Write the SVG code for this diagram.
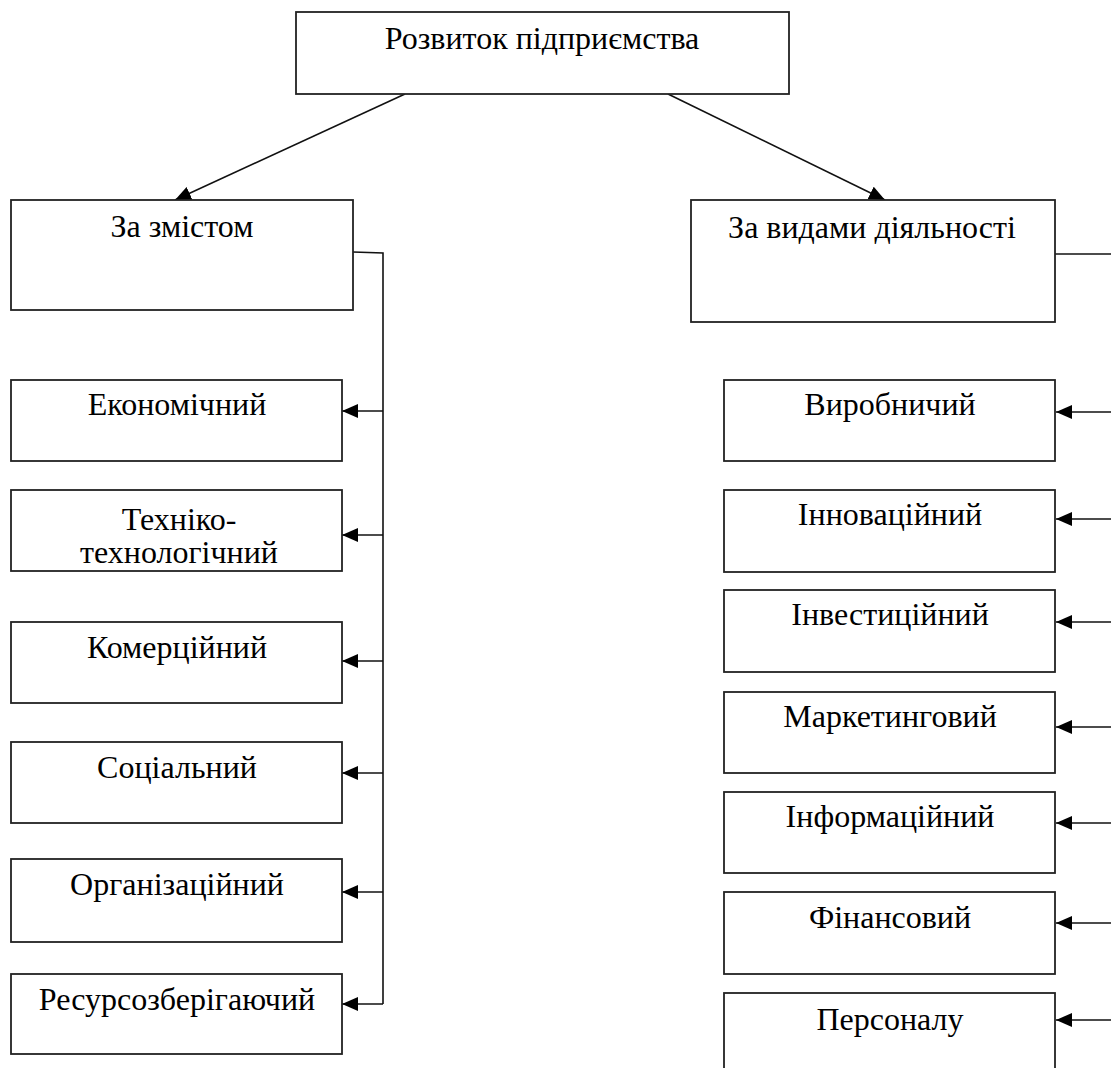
<svg xmlns="http://www.w3.org/2000/svg" width="1111" height="1068" viewBox="0 0 1111 1068">
<defs>
<style>
.box{fill:#fff;stroke:#222;stroke-width:1.8}
.t{font-family:"Liberation Serif","DejaVu Serif",serif;font-size:32px;fill:#000;text-anchor:middle}
.c{fill:none;stroke:#111;stroke-width:1.6}
</style>
<marker id="ah" markerUnits="userSpaceOnUse" markerWidth="17" markerHeight="15" refX="16" refY="7" orient="auto">
<path d="M0,0 L16,7 L0,14 Z" fill="#000"/>
</marker>
</defs>
<rect width="1111" height="1068" fill="#fff"/>
<g id="connectors">
<line class="c" x1="405" y1="94" x2="175" y2="200" marker-end="url(#ah)"/>
<line class="c" x1="668" y1="94" x2="885" y2="200" marker-end="url(#ah)"/>
<polyline class="c" points="353,252 383,253 383,1004"/>
<line class="c" x1="383" y1="411" x2="342" y2="411" marker-end="url(#ah)"/>
<line class="c" x1="383" y1="535" x2="342" y2="535" marker-end="url(#ah)"/>
<line class="c" x1="383" y1="661" x2="342" y2="661" marker-end="url(#ah)"/>
<line class="c" x1="383" y1="773" x2="342" y2="773" marker-end="url(#ah)"/>
<line class="c" x1="383" y1="892" x2="342" y2="892" marker-end="url(#ah)"/>
<line class="c" x1="383" y1="1004" x2="342" y2="1004" marker-end="url(#ah)"/>
<line class="c" x1="1055" y1="254" x2="1112" y2="254"/>
<line class="c" x1="1112" y1="412" x2="1056" y2="412" marker-end="url(#ah)"/>
<line class="c" x1="1112" y1="519" x2="1056" y2="519" marker-end="url(#ah)"/>
<line class="c" x1="1112" y1="622" x2="1056" y2="622" marker-end="url(#ah)"/>
<line class="c" x1="1112" y1="727" x2="1056" y2="727" marker-end="url(#ah)"/>
<line class="c" x1="1112" y1="823" x2="1056" y2="823" marker-end="url(#ah)"/>
<line class="c" x1="1112" y1="923" x2="1056" y2="923" marker-end="url(#ah)"/>
<line class="c" x1="1112" y1="1020" x2="1056" y2="1020" marker-end="url(#ah)"/>
</g>
<g id="root"><rect class="box" x="296" y="12" width="493" height="82"/><text class="t" x="542" y="49">Розвиток підприємства</text></g>
<g id="content"><rect class="box" x="11" y="200" width="342" height="110"/><text class="t" x="182" y="237">За змістом</text></g>
<g id="activity"><rect class="box" x="691" y="200" width="364" height="122"/><text class="t" x="872" y="238">За видами діяльності</text></g>
<g id="economic"><rect class="box" x="11" y="380" width="331" height="81"/><text class="t" x="177" y="415">Економічний</text></g>
<g id="technical"><rect class="box" x="11" y="490" width="331" height="81"/><text class="t" x="179" y="530">Техніко-</text><text class="t" x="179" y="563">технологічний</text></g>
<g id="commercial"><rect class="box" x="11" y="622" width="331" height="81"/><text class="t" x="177" y="658">Комерційний</text></g>
<g id="social"><rect class="box" x="11" y="742" width="331" height="81"/><text class="t" x="177" y="778">Соціальний</text></g>
<g id="organizational"><rect class="box" x="11" y="859" width="331" height="83"/><text class="t" x="177" y="895">Організаційний</text></g>
<g id="resource"><rect class="box" x="11" y="974" width="331" height="80"/><text class="t" x="177" y="1010">Ресурсозберігаючий</text></g>
<g id="production"><rect class="box" x="724" y="380" width="331" height="81"/><text class="t" x="890" y="415">Виробничий</text></g>
<g id="innovation"><rect class="box" x="724" y="490" width="331" height="82"/><text class="t" x="890" y="525">Інноваційний</text></g>
<g id="investment"><rect class="box" x="724" y="590" width="331" height="82"/><text class="t" x="890" y="625">Інвестиційний</text></g>
<g id="marketing"><rect class="box" x="724" y="692" width="331" height="81"/><text class="t" x="890" y="727">Маркетинговий</text></g>
<g id="information"><rect class="box" x="724" y="792" width="331" height="81"/><text class="t" x="890" y="827">Інформаційний</text></g>
<g id="financial"><rect class="box" x="724" y="892" width="331" height="82"/><text class="t" x="890" y="928">Фінансовий</text></g>
<g id="personnel"><rect class="box" x="724" y="993" width="331" height="90"/><text class="t" x="890" y="1030">Персоналу</text></g>
</svg>
